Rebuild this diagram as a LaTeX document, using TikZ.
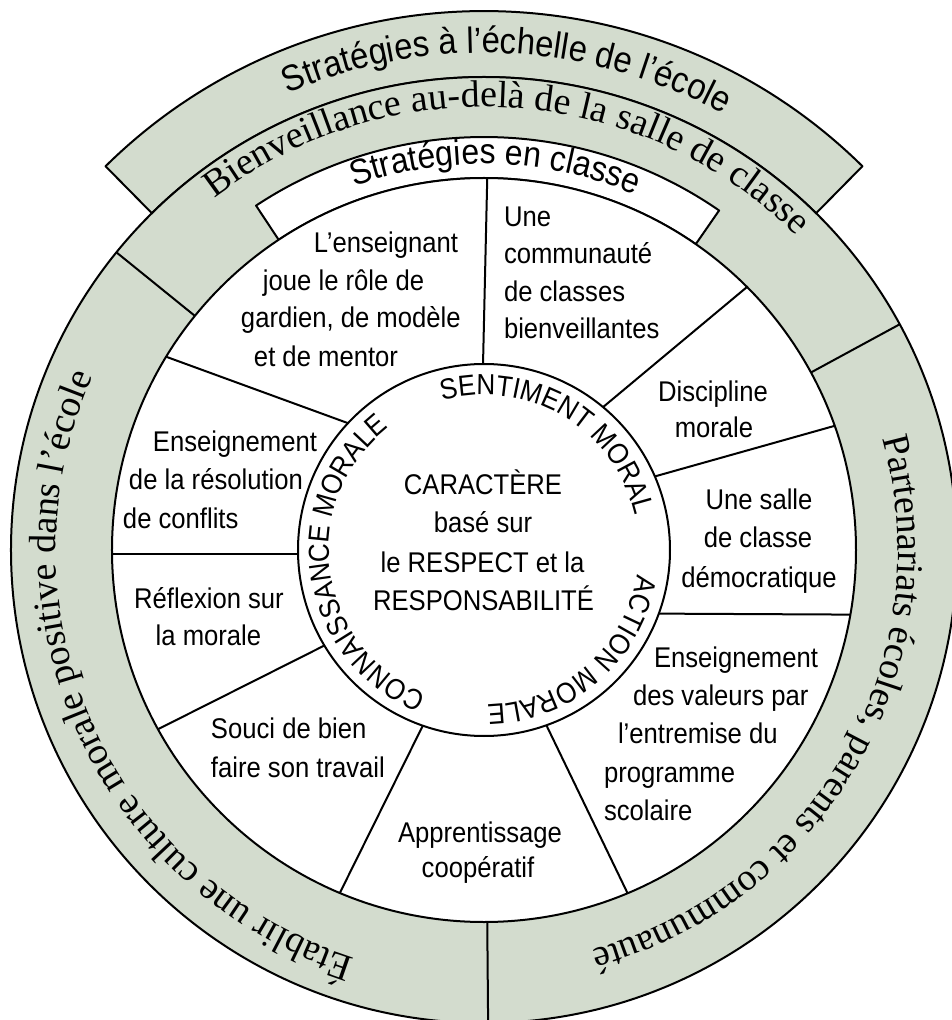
\documentclass[tikz,border=0pt]{standalone}
\usepackage{fontspec}
\setmainfont{Liberation Serif}
\setsansfont{Liberation Sans}
\newfontfamily\nsans[FakeStretch=0.9]{Liberation Sans}
\usetikzlibrary{decorations.text}
\definecolor{sage}{RGB}{211,220,206}
\newcommand\bandsans{\fontsize{36.5}{36.5}\selectfont\nsans}
\newcommand\tabsans{\fontsize{35.5}{35.5}\selectfont\nsans}
\newcommand\bandserif{\fontsize{38}{38}\selectfont\rmfamily}
\newcommand\coresans{\fontsize{29}{29}\selectfont\nsans}
\begin{document}
\begin{tikzpicture}[x=1pt,y=1pt,line width=2pt,line join=round,
  lbl/.style={font=\nsans\fontsize{28.5}{30}\selectfont,inner sep=0pt},
  curved/.style={decorate,decoration={text along path,text align=center,text={#1}}}]
\useasboundingbox (-484,-470) rectangle (468,550);
% outer top band
\draw[fill=sage] (45.4:473) arc[start angle=45.4,end angle=134.6,radius=473]
  -- (134.6:539) arc[start angle=134.6,end angle=45.4,radius=539] -- cycle;
% main ring
\draw[fill=sage] (0,0) circle[radius=473];
% white tab
\draw[fill=white] (55.3:372) -- (55.3:413) arc[start angle=55.3,end angle=123.5,radius=413]
  -- (123.5:372) arc[start angle=123.5,end angle=55.3,radius=372] -- cycle;
% white disc
\draw[fill=white] (0,0) circle[radius=372];
% ring dividers
\draw (141:372) -- (141:473);
\draw (28.5:372) -- (28.5:473);
\draw (-89.5:372) -- (-89.5:473);
% core circle
\draw (0,0) circle[radius=186];
% sector dividers
\draw (89.5:372) -- (90.3:186);
\draw (148.7:372) -- (137:186);
\draw (180.6:372) -- (181.2:186);
\draw (208.8:372) -- (210.9:186);
\draw (247.2:372) -- (250.8:186);
\draw (292.7:372) -- (289.6:186);
\draw (-10:372) -- (-20:186);
\draw (19.5:372) -- (23.3:186);
\draw (45:372) -- (50.2:186);
% curved texts
\path[curved={|\bandsans|Stratégies à l’échelle de l’école}]
  (147.25:497) arc[start angle=147.25,end angle=27.25,radius=497];
\path[curved={|\bandserif|Bienveillance au-delà de la salle de classe}]
  (151.3:443) arc[start angle=151.3,end angle=21.3,radius=443];
\path[curved={|\tabsans|Stratégies en classe}]
  (138.3:386) arc[start angle=138.3,end angle=38.3,radius=386];
\path[curved={|\bandserif|Partenariats écoles, parents et communauté}]
  (50.3:414) arc[start angle=50.3,end angle=-109.7,radius=414];
\path[curved={|\bandserif|Établir une culture morale positive dans l’école}]
  (-75.75:428) arc[start angle=-75.75,end angle=-235.75,radius=428];
\path[curved={|\coresans|SENTIMENT MORAL}]
  (129.3:155) arc[start angle=129.3,end angle=-10.7,radius=155];
\path[curved={|\coresans|ACTION MORALE}]
  (21:155) arc[start angle=21,end angle=-119,radius=155];
\path[curved={|\coresans|CONNAISSANCE MORALE}]
  (-102:155) arc[start angle=-102,end angle=-242,radius=155];
% sector texts
\node[lbl,anchor=base west] (t1a) at (-171,297) {L’enseignant};
\node[lbl,anchor=base west] (t1b) at (-222,259) {joue le rôle de};
\node[lbl,anchor=base west] (t1c) at (-244,222) {gardien, de modèle};
\node[lbl,anchor=base west] (t1d) at (-231,183) {et de mentor};
\node[lbl,anchor=base west] (t2a) at (19,323) {Une};
\node[lbl,anchor=base west] (t2b) at (19,286) {communauté};
\node[lbl,anchor=base west] (t2c) at (19,248) {de classes};
\node[lbl,anchor=base west] (t2d) at (19,211) {bienveillantes};
\node[lbl,anchor=base] (t3a) at (229,148) {Discipline};
\node[lbl,anchor=base] (t3b) at (230,112) {morale};
\node[lbl,anchor=base] (t4a) at (275,40) {Une salle};
\node[lbl,anchor=base] (t4b) at (274,2) {de classe};
\node[lbl,anchor=base] (t4c) at (275,-37) {démocratique};
\node[lbl,anchor=base west] (t5a) at (169,-117) {Enseignement};
\node[lbl,anchor=base west] (t5b) at (148,-155) {des valeurs par};
\node[lbl,anchor=base west] (t5c) at (133,-193) {l’entremise du};
\node[lbl,anchor=base west] (t5d) at (119,-232) {programme};
\node[lbl,anchor=base west] (t5e) at (119,-270) {scolaire};
\node[lbl,anchor=base] (t6a) at (-4,-292) {Apprentissage};
\node[lbl,anchor=base] (t6b) at (-6,-327) {coopératif};
\node[lbl,anchor=base west] (t7a) at (-274,-188) {Souci de bien};
\node[lbl,anchor=base west] (t7b) at (-274,-227) {faire son travail};
\node[lbl,anchor=base] (t8a) at (-275,-58) {Réflexion sur};
\node[lbl,anchor=base] (t8b) at (-275.5,-95) {la morale};
\node[lbl,anchor=base west] (t9a) at (-332,98) {Enseignement};
\node[lbl,anchor=base west] (t9b) at (-356,60) {de la résolution};
\node[lbl,anchor=base west] (t9c) at (-362,22) {de conflits};
% core texts
\node[lbl,anchor=base] (c1) at (-1,55) {CARACTÈRE};
\node[lbl,anchor=base] (c2) at (-1,17) {basé sur};
\node[lbl,anchor=base] (c3) at (-1.5,-22) {le RESPECT et la};
\node[lbl,anchor=base] (c4) at (-0.5,-60) {RESPONSABILITÉ};
\end{tikzpicture}
\end{document}
